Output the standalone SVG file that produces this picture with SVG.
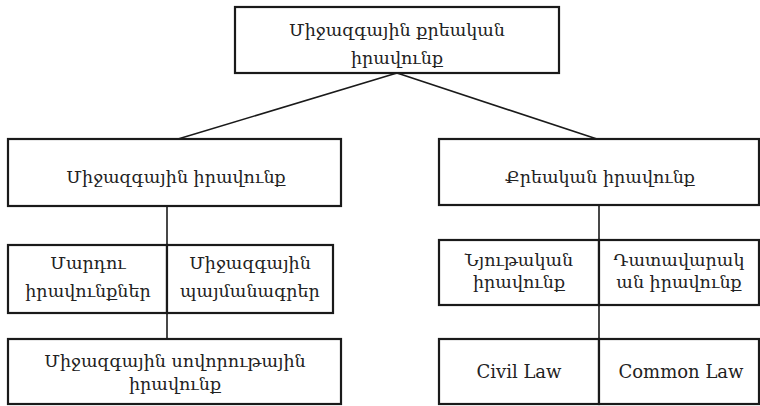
<svg xmlns="http://www.w3.org/2000/svg" width="760" height="406" viewBox="0 0 760 406">
  <style>
    .box { fill: #ffffff; stroke: #1a1a1a; stroke-width: 2.2; }
    .link { stroke: #1a1a1a; stroke-width: 1.6; fill: none; }
    text { font-family: "DejaVu Serif", "Liberation Serif", serif; font-size: 17.5px; fill: #222222; text-anchor: middle; }
    .latin { font-size: 18px; }
  </style>
  <rect width="760" height="406" fill="#ffffff"/>

  <!-- connectors -->
  <g id="connectors">
    <line class="link" x1="397" y1="73" x2="178" y2="139"/>
    <line class="link" x1="397" y1="73" x2="597" y2="139"/>
    <line class="link" x1="167" y1="206" x2="167" y2="339"/>
    <line class="link" x1="599" y1="205" x2="599" y2="339"/>
  </g>

  <!-- root -->
  <g id="root">
    <rect class="box" x="235" y="7" width="324" height="66"/>
    <text x="397" y="36">Միջազգային քրեական</text>
    <text x="397" y="64">իրավունք</text>
  </g>

  <!-- first level -->
  <g id="international-law">
    <rect class="box" x="8" y="139" width="333" height="67"/>
    <text x="176" y="183">Միջազգային իրավունք</text>
  </g>
  <g id="criminal-law">
    <rect class="box" x="439" y="139" width="320" height="66"/>
    <text x="600" y="183">Քրեական իրավունք</text>
  </g>

  <!-- international law branches -->
  <g id="human-rights">
    <rect class="box" x="8" y="245" width="159" height="68"/>
    <text x="88" y="269">Մարդու</text>
    <text x="88" y="297">իրավունքներ</text>
  </g>
  <g id="treaties">
    <rect class="box" x="167" y="245" width="166" height="68"/>
    <text x="250" y="269">Միջազգային</text>
    <text x="250" y="297">պայմանագրեր</text>
  </g>
  <g id="customary-law">
    <rect class="box" x="8" y="339" width="333" height="65"/>
    <text x="175" y="367">Միջազգային սովորութային</text>
    <text x="175" y="390">իրավունք</text>
  </g>

  <!-- criminal law branches -->
  <g id="substantive-law">
    <rect class="box" x="439" y="240" width="160" height="65"/>
    <text x="519" y="266">Նյութական</text>
    <text x="519" y="288">իրավունք</text>
  </g>
  <g id="procedural-law">
    <rect class="box" x="599" y="240" width="160" height="65"/>
    <text x="679" y="266">Դատավարակ</text>
    <text x="679" y="288">ան իրավունք</text>
  </g>
  <g id="civil-law">
    <rect class="box" x="439" y="339" width="160" height="65"/>
    <text class="latin" x="519" y="378">Civil Law</text>
  </g>
  <g id="common-law">
    <rect class="box" x="599" y="339" width="160" height="65"/>
    <text class="latin" x="681" y="378">Common Law</text>
  </g>
</svg>
